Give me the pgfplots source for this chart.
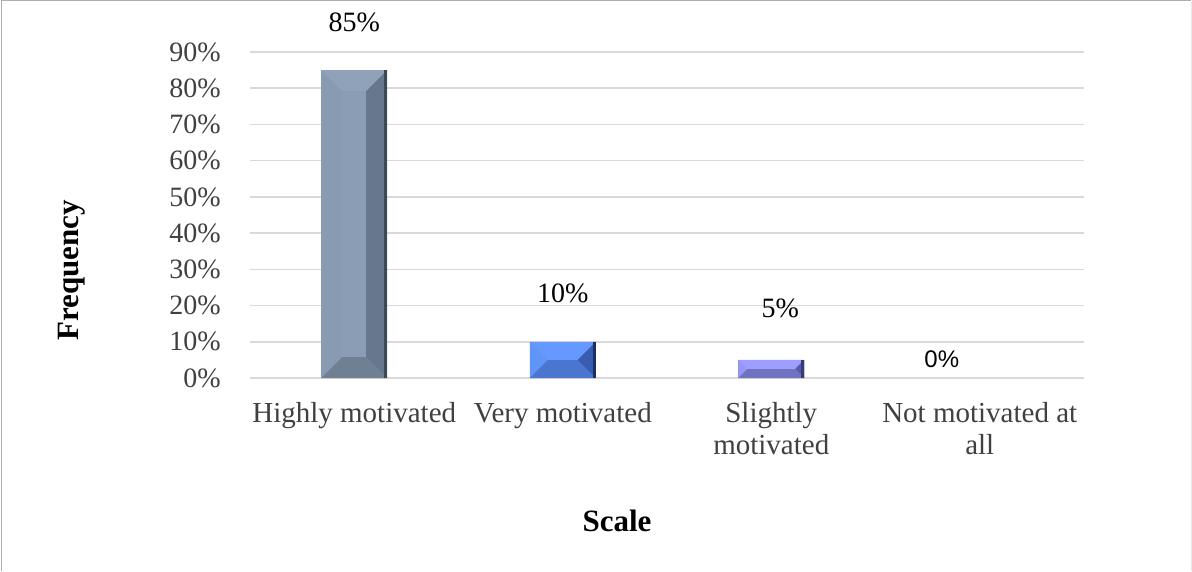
\documentclass[border=0pt]{standalone}
\usepackage{fontspec}
\setmainfont{Liberation Serif}
\newfontfamily\sansfont{Liberation Sans}
\usepackage{pgfplots}
\pgfplotsset{compat=1.18}

\definecolor{gridgray}{HTML}{D9D9D9}
\definecolor{ticktext}{HTML}{404040}
\definecolor{framegray}{HTML}{B0ACAE}
% bar palette: face / top / left / right / bottom / edge
\definecolor{slateF}{HTML}{8A9DB5}
\definecolor{slateT}{HTML}{8FA2BA}
\definecolor{slateL}{HTML}{889BB3}
\definecolor{slateR}{HTML}{67778C}
\definecolor{slateB}{HTML}{6F8095}
\definecolor{slateE}{HTML}{3E4958}
\definecolor{blueF}{HTML}{5B8DF0}
\definecolor{blueT}{HTML}{6699FF}
\definecolor{blueL}{HTML}{6094F7}
\definecolor{blueR}{HTML}{3A5CB0}
\definecolor{blueB}{HTML}{4A76D0}
\definecolor{blueE}{HTML}{1E2E66}
\definecolor{violetF}{HTML}{8E8EEC}
\definecolor{violetT}{HTML}{9E9EFF}
\definecolor{violetL}{HTML}{9696F6}
\definecolor{violetR}{HTML}{5A5AA4}
\definecolor{violetB}{HTML}{7272C2}
\definecolor{violetE}{HTML}{3A3A78}

% axis scale: 208.5pt per category, 326pt for 0.9
\newcommand\halfbar{0.15827}% 33pt in x units
% bevelled faces of a bar: #1 x, #2 value, #3 colour prefix, #4 bevel (pt)
\newcommand\bevelfaces[4]{%
  \pgfmathsetmacro\bvxl{#1-\halfbar}%
  \pgfmathsetmacro\bvxr{#1+\halfbar}%
  \pgfmathsetmacro\bvxe{#1+\halfbar-3/208.5}%
  \pgfmathsetmacro\bvil{#1-\halfbar+#4/208.5}%
  \pgfmathsetmacro\bvir{#1+\halfbar-#4/208.5}%
  \pgfmathsetmacro\bvyb{#4*0.9/326}%
  \pgfmathsetmacro\bvyt{#2-#4*0.9/326}%
  \addplot[fill=#3L, draw=none, forget plot] coordinates
    {(\bvxl,0) (\bvxl,#2) (\bvil,\bvyt) (\bvil,\bvyb)} -- cycle;
  \addplot[fill=#3T, draw=none, forget plot] coordinates
    {(\bvxl,#2) (\bvxr,#2) (\bvir,\bvyt) (\bvil,\bvyt)} -- cycle;
  \addplot[fill=#3R, draw=none, forget plot] coordinates
    {(\bvxr,#2) (\bvxr,0) (\bvir,\bvyb) (\bvir,\bvyt)} -- cycle;
  \addplot[fill=#3B, draw=none, forget plot] coordinates
    {(\bvxr,0) (\bvxl,0) (\bvil,\bvyb) (\bvir,\bvyb)} -- cycle;
  \addplot[fill=#3E, draw=none, forget plot] coordinates
    {(\bvxe,0) (\bvxe,#2) (\bvxr,#2) (\bvxr,0)} -- cycle;
}

\pgfplotsset{
  valbar/.style={
    ybar, bar width=66pt, bar shift=0pt, draw=none,
    point meta={y*100},
    nodes near coords={\pgfmathprintnumber[fixed,precision=0]{\pgfplotspointmeta}\%},
    nodes near coords style={font=\fontsize{28}{32}\selectfont, text=black,
      anchor=center, yshift=48pt},
  },
}

\begin{document}
\begin{tikzpicture}
\useasboundingbox (0,0) rectangle (1192pt,571pt);
\fill[white] (0,0) rectangle (1192pt,571pt);
\draw[framegray, line width=1.6pt] (1.5pt,0) -- (1.5pt,570.4pt) -- (1191pt,570.4pt);
\draw[gridgray!60, line width=1pt] (1191pt,570.4pt) -- (1191pt,0);

\begin{axis}[
  at={(250pt,193pt)}, anchor=south west,
  scale only axis,
  width=834pt, height=326pt,
  xmin=-0.5, xmax=3.5,
  ymin=0, ymax=0.9,
  ytick={0,0.1,...,0.9},
  yticklabel={\pgfmathparse{100*\tick}\pgfmathprintnumber[fixed,precision=0]{\pgfmathresult}\%},
  /pgf/number format/assume math mode=true,
  xtick={0,1,2,3},
  xticklabels={Highly motivated, Very motivated, Slightly\\motivated, Not motivated at\\all},
  axis line style={draw=none},
  major tick length=0pt,
  ymajorgrids,
  grid style={gridgray, line width=1.6pt},
  every tick label/.append style={text=ticktext},
  yticklabel style={font=\fontsize{28}{32}\selectfont, anchor=east, inner sep=0pt, xshift=-29pt},
  xticklabel style={font=\fontsize{29}{32}\selectfont, anchor=north, inner sep=0pt, yshift=-24pt, align=center},
  xlabel={Scale},
  ylabel={Frequency},
  label style={font=\fontsize{31}{36}\bfseries},
  xlabel style={at={(rel axis cs:0.44,-0.4387)}, anchor=center},
  ylabel style={at={(rel axis cs:-0.2134,0.331)}, anchor=center},
  clip=false,
]
\addplot[valbar, fill=slateF] coordinates {(0,0.85)};
\bevelfaces{0}{0.85}{slate}{21}
\addplot[valbar, fill=blueF] coordinates {(1,0.10)};
\bevelfaces{1}{0.10}{blue}{18}
\addplot[valbar, fill=violetF,
  nodes near coords style={yshift=4pt, xshift=9pt}] coordinates {(2,0.05)};
\bevelfaces{2}{0.05}{violet}{9}
\addplot[valbar, fill=none,
  nodes near coords style={font=\sansfont\fontsize{24}{28}\selectfont,
    yshift=-29pt, xshift=-38pt}] coordinates {(3,0)};
\end{axis}
\end{tikzpicture}
\end{document}
